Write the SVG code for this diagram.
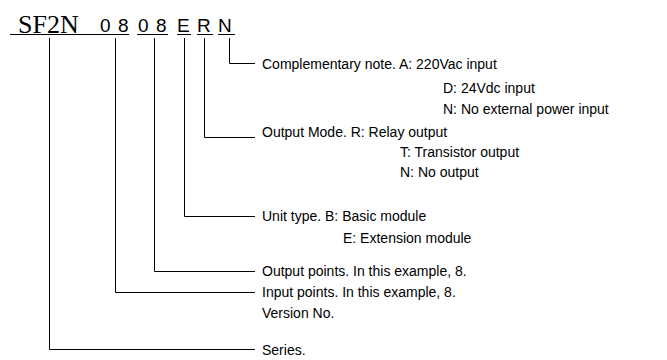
<svg xmlns="http://www.w3.org/2000/svg" width="667" height="360" viewBox="0 0 667 360">
<style>
.t{font-family:"Liberation Sans",Arial,sans-serif;font-size:14px;fill:#000}
.c{font-family:"Liberation Sans",Arial,sans-serif;font-size:19px;fill:#000}
.s{font-family:"Liberation Serif","Times New Roman",serif;font-size:26px;fill:#000}
.ln{stroke:#000;stroke-width:1;fill:none}
</style>
<rect width="667" height="360" fill="#fff"/>
<g id="code">
<text class="s" x="18" y="33">SF2N</text>
<text class="c" x="100" y="32">0</text>
<text class="c" x="118" y="32">8</text>
<text class="c" x="138" y="32">0</text>
<text class="c" x="156" y="32">8</text>
<text class="c" x="177" y="32">E</text>
<text class="c" x="197" y="32">R</text>
<text class="c" x="218" y="32">N</text>
<path class="ln" d="M10 34.5H97M97 34.5H129M137 34.5H168M177 34.5H191M197 34.5H213M218 34.5H235"/>
</g>
<g id="connectors">
<path class="ln" d="M229.5 38V63.5H255"/>
<path class="ln" d="M204.5 38V137.5H255"/>
<path class="ln" d="M184.5 38V216.5H255"/>
<path class="ln" d="M154.5 38V271.5H255"/>
<path class="ln" d="M115.5 38V292.5H255"/>
<path class="ln" d="M49.5 38V349.5H255"/>
</g>
<g id="note">
<text class="t" x="262" y="69">Complementary note. A: 220Vac input</text>
<text class="t" x="443" y="93">D: 24Vdc input</text>
<text class="t" x="443" y="114">N: No external power input</text>
</g>
<g id="output-mode">
<text class="t" x="262" y="137">Output Mode. R: Relay output</text>
<text class="t" x="400" y="157">T: Transistor output</text>
<text class="t" x="400" y="177">N: No output</text>
</g>
<g id="unit-type">
<text class="t" x="262" y="221">Unit type. B: Basic module</text>
<text class="t" x="343" y="243">E: Extension module</text>
</g>
<g id="output-points">
<text class="t" x="262" y="276">Output points. In this example, 8.</text>
</g>
<g id="input-points">
<text class="t" x="262" y="297">Input points. In this example, 8.</text>
</g>
<g id="version">
<text class="t" x="262" y="318">Version No.</text>
</g>
<g id="series">
<text class="t" x="262" y="355">Series.</text>
</g>
</svg>
